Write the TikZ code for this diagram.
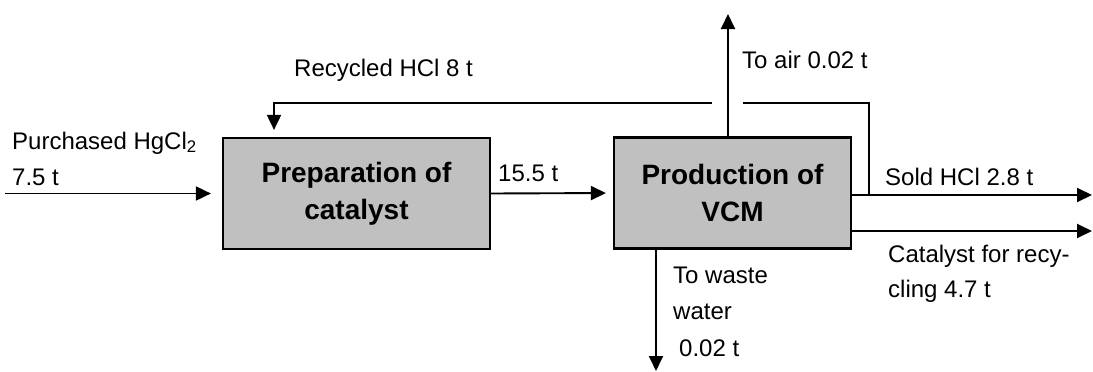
\documentclass[tikz,border=0pt]{standalone}
\usepackage{fontspec}
\setmainfont{Liberation Sans}
\usetikzlibrary{arrows.meta}
\definecolor{boxgray}{HTML}{C0C0C0}
\tikzset{
  flow/.style={line width=1.9pt},
  arr/.style={flow,-{Triangle[length=15pt,width=14pt]}},
  proc/.style={draw,line width=2.2pt,fill=boxgray,inner sep=0pt,align=center,
    font=\fontsize{28}{37}\selectfont\bfseries},
  lbl/.style={anchor=base west,inner sep=0pt,font=\fontsize{24}{36}\selectfont}
}
\begin{document}
\begin{tikzpicture}[x=1pt,y=-1pt]
\useasboundingbox (0,0) rectangle (1093,372);
% process boxes
\node[proc,minimum width=267pt,minimum height=111pt] (b1) at (356.5,193.5) {Preparation of\\catalyst};
\node[proc,minimum width=237pt,minimum height=111pt] (b2) at (732.5,193) {Production of\\VCM};
% coordinates
\coordinate (in) at (5,193.5);
\coordinate (air) at (728,14);
\coordinate (ww) at (656,371);
\coordinate (sold) at (1092,195);
\coordinate (cat) at (1092,231);
\coordinate (rc1) at (869,195);
\coordinate (rc2) at (869,103);
\coordinate (gapR) at (743,103);
\coordinate (gapL) at (712,103);
\coordinate (rc3) at (274,103);
% connectors
\draw[arr,shorten >=11pt] (in) -- (b1.west);
\draw[arr,shorten >=7pt] (b1.east) -- (b2.west);
\draw[arr] (air |- b2.north) -- (air);
\draw[arr] (ww |- b2.south) -- (ww);
\draw[arr] (b2.east |- sold) -- (sold);
\draw[arr] (b2.east |- cat) -- (cat);
\draw[flow] (rc1) -- (rc2) -- (gapR);
\draw[arr,shorten >=7pt] (gapL) -- (rc3) -- (rc3 |- b1.north);
% labels
\node[lbl] (t1) at (12,149) {Purchased HgCl\textsubscript{2}};
\node[lbl] (t2) at (12,185) {7.5 t};
\node[lbl] (t3) at (294,76) {Recycled HCl 8 t};
\node[lbl] (t4) at (498,181) {15.5 t};
\node[lbl] (t5) at (742,68) {To air 0.02 t};
\node[lbl] (t6) at (885,185) {Sold HCl 2.8 t};
\node[lbl] (t7) at (888,262) {Catalyst for recy-};
\node[lbl] (t8) at (888,297) {cling 4.7 t};
\node[lbl] (t9) at (673,283) {To waste};
\node[lbl] (t10) at (673,319) {water};
\node[lbl] (t11) at (679,356) {0.02 t};
\end{tikzpicture}
\end{document}
